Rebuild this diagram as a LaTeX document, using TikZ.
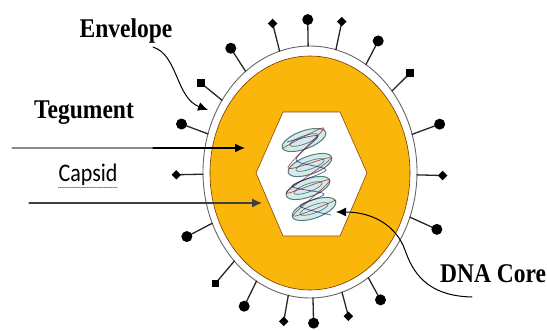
\documentclass[tikz,border=0pt]{standalone}
\usepackage{fontspec}
\setmainfont{Liberation Serif}
\newfontfamily\capsidfont{Carlito}
\usetikzlibrary{arrows.meta,shapes.geometric}

\definecolor{tegument}{RGB}{250,182,10}
\newcommand{\stretched}[1]{\scalebox{1}[1.15]{#1}}

\tikzset{
  bigtext/.style={font=\fontsize{23.5}{26}\selectfont\bfseries, inner sep=0pt, anchor=base},
  spike/.style={line width=1.3pt, black!85},
  ball/.style={circle, fill=black, inner sep=0pt, minimum size=11pt},
  knob/.style={diamond, fill=black, inner sep=0pt, minimum size=10pt},
  block/.style={rectangle, fill=black, inner sep=0pt, minimum size=7.5pt},
  coil/.style={fill=teal!20, fill opacity=0.8, draw=gray!60!teal, line width=1pt},
  strand/.style={red!55!black, line width=0.8pt, opacity=0.6},
}

\begin{document}
\begin{tikzpicture}[x=1pt, y=-1pt, >={Latex[length=10pt,width=9pt]}, line cap=round, line join=round]
\useasboundingbox (0,0) rectangle (547,330);

% envelope and tegument
\draw[black!60, line width=0.9pt] (310,172) ellipse (107 and 126);
\filldraw[fill=tegument, draw=orange!45!black, line width=0.6pt] (310,173) ellipse (100 and 117);

% capsid
\filldraw[fill=white, draw=orange!55!black, line width=0.6pt] (256,173) -- (283,112) -- (340,112) -- (367,173) -- (340,236) -- (283,236) -- cycle;

% dna coils
\draw[coil, rotate around={20:(304,140)}] (304,140) ellipse (23 and 9);
\draw[coil, rotate around={20:(310,165)}] (310,165) ellipse (23 and 9);
\draw[coil, rotate around={20:(308,188)}] (308,188) ellipse (23 and 9);
\draw[coil, rotate around={20:(314,209)}] (314,209) ellipse (23 and 9);
\draw[gray!60!teal, line width=0.7pt, rotate around={20:(304,140)}] (304,140) ellipse (15 and 4);
\draw[gray!60!teal, line width=0.7pt, rotate around={20:(310,165)}] (310,165) ellipse (15 and 4);
\draw[gray!60!teal, line width=0.7pt, rotate around={20:(308,188)}] (308,188) ellipse (15 and 4);
\draw[gray!60!teal, line width=0.7pt, rotate around={20:(314,209)}] (314,209) ellipse (15 and 4);
\draw[strand] plot[smooth] coordinates {(283,148) (324,128) (288,168) (331,158) (286,193) (330,180) (293,216) (336,200)};
\draw[strand, blue!40!black] plot[smooth] coordinates {(287,142) (318,136) (296,160) (326,170) (292,186) (324,194) (300,206) (331,215)};

% spikes on the envelope
\begin{scope}[shift={(310,172)}, x=107pt, y=126pt]
\draw[spike] (106.5:1) -- (106.5:1.23) node[knob] {};
\draw[spike] (91:1) -- (91:1.21) node[ball] {};
\draw[spike] (76:1) -- (76:1.23) node[knob] {};
\draw[spike] (58.5:1) -- (58.5:1.22) node[ball] {};
\draw[spike] (40:1) -- (40:1.22) node[block] {};
\draw[spike] (17.4:1) -- (17.4:1.27) node[ball] {};
\draw[spike] (-1.3:1) -- (-1.3:1.24) node[knob] {};
\draw[spike] (-21:1) -- (-21:1.27) node[ball] {};
\draw[spike] (-57:1) -- (-57:1.21) node[ball] {};
\draw[spike] (-72.6:1) -- (-72.6:1.2) node[knob] {};
\draw[spike] (-88.4:1) -- (-88.4:1.2) node[ball] {};
\draw[spike] (-101.7:1) -- (-101.7:1.21) node[knob] {};
\draw[spike] (-120:1) -- (-120:1.23) node[ball] {};
\draw[spike] (-135:1) -- (-135:1.25) node[block] {};
\draw[spike] (-156:1) -- (-156:1.26) node[ball] {};
\draw[spike] (181:1) -- (181:1.25) node[knob] {};
\draw[spike] (162.4:1) -- (162.4:1.26) node[ball] {};
\draw[spike] (145.3:1) -- (145.3:1.24) node[block] {};
\draw[spike] (127:1) -- (127:1.23) node[ball] {};
\end{scope}

% labels
\node[bigtext] (env) at (126,37) {\stretched{Envelope}};
\node[bigtext] (teg) at (84,118) {\stretched{Tegument}};
\node[inner sep=0pt, anchor=base, font=\capsidfont\fontsize{22}{24}\selectfont] (cap) at (88,181) {\stretched{Capsid}};
\node[bigtext, anchor=base west] (dna) at (440,282) {\stretched{DNA Core}};
\draw[red!75, densely dotted, line width=0.7pt] ([yshift=-6pt]cap.base west) -- ([yshift=-6pt]cap.base east);

% pointers
\coordinate (envstart) at (153,47);
\coordinate (envtip) at (208,110);
\draw[->, line width=1pt] (envstart) .. controls (178,55) and (176,98) .. (envtip);

\coordinate (tegstart) at (12,148);
\coordinate (tegmid) at (153,148);
\coordinate (tegtip) at (245,148);
\draw[black!45, line width=1.2pt] (tegstart) -- (tegmid);
\draw[->, line width=1.2pt] (tegmid) -- (tegtip);

\coordinate (capstart) at (29,203);
\coordinate (captip) at (262,203);
\draw[->, black!75, line width=1.2pt] (capstart) -- (captip);

\coordinate (dnaend) at (472,297);
\coordinate (dnatip) at (336,212);
\draw[->, line width=1pt] (dnaend) .. controls (425,296) and (412,270) .. (405,250) .. controls (396,225) and (372,212) .. (dnatip);
\end{tikzpicture}
\end{document}
